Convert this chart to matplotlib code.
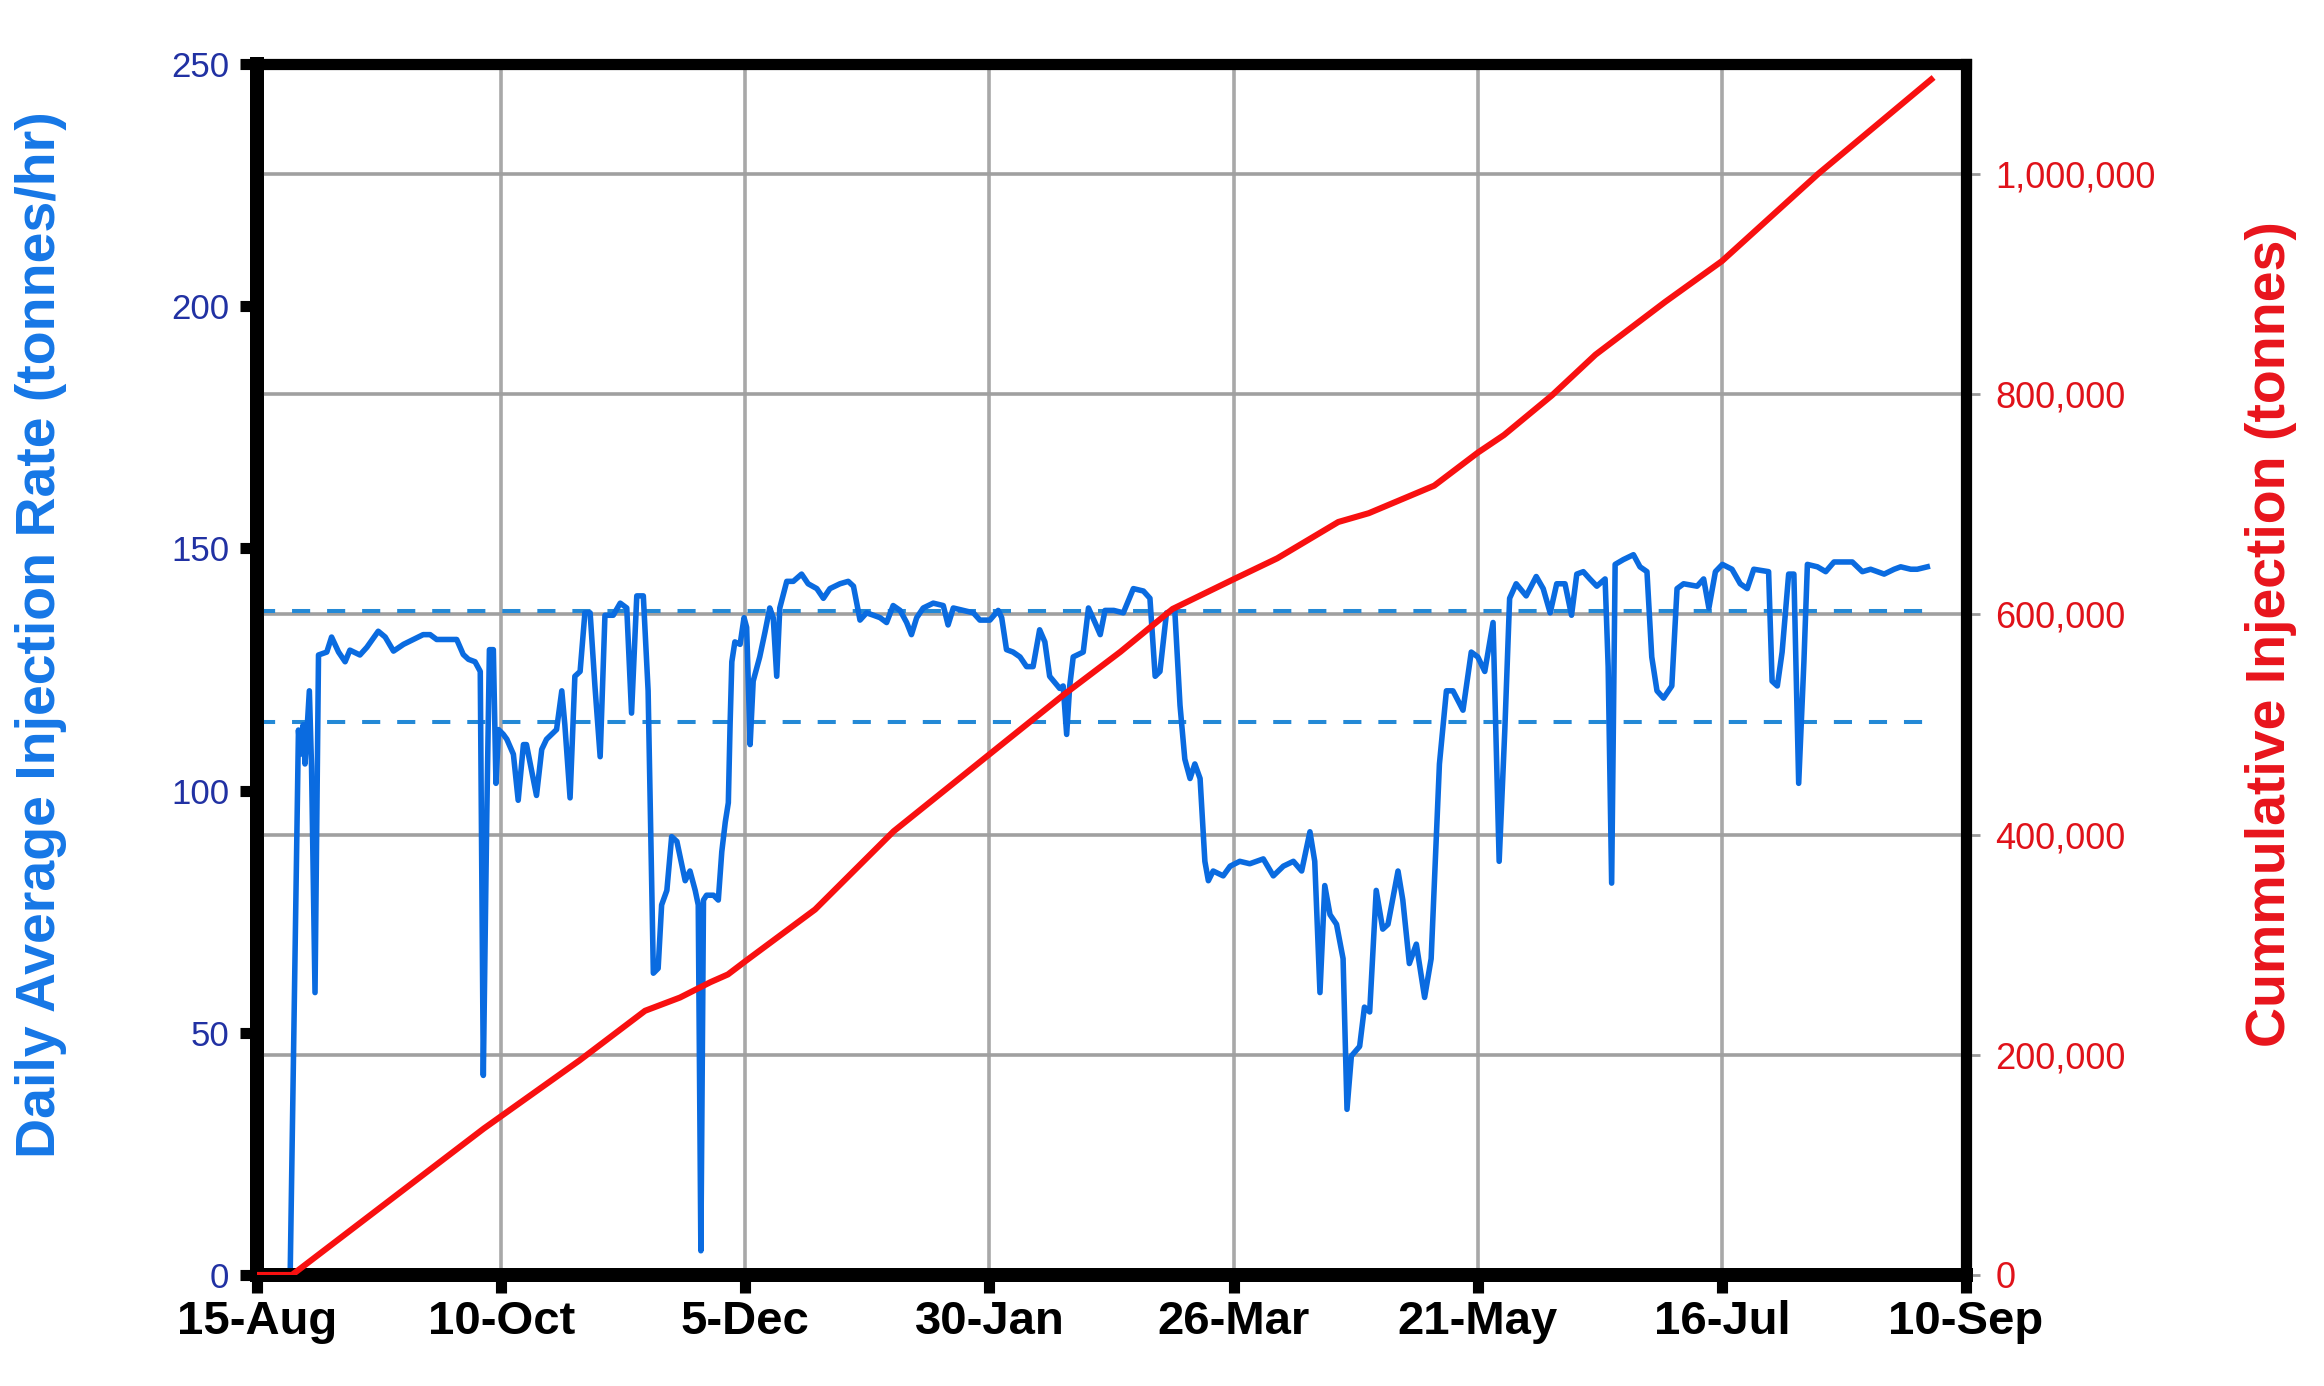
import numpy as np
import matplotlib
matplotlib.use("Agg")
import matplotlib.pyplot as plt
from matplotlib.ticker import FuncFormatter

plt.rcParams['font.family'] = ['Liberation Sans', 'DejaVu Sans']

# days counted from 15-Aug
RATE_DAYS = [
    0, 7.6, 9.5, 9.9, 10.6, 11.0, 12.0, 12.5, 13.3, 14.1, 16.0, 17.1, 18.7, 20.2,
    21.3, 23.6, 25.2, 27.8, 29.4, 31.3, 33.6, 38.1, 39.7, 41.2, 45.8, 47.3, 48.5,
    50.0, 51.2, 51.9, 52.7, 53.3, 54.2, 54.8, 55.4, 56.5, 57.3, 58.8, 59.9, 61.1,
    61.8, 64.1, 65.3, 66.4, 68.7, 69.9, 70.6, 71.8, 72.9, 74.1, 75.2, 76.4, 77.5,
    78.7, 79.8, 81.7, 83.3, 84.8, 85.9, 87.1, 88.6, 89.7, 90.9, 92.0, 92.8, 94.0,
    95.1, 96.3, 98.2, 99.3, 100.5, 101.2, 101.8, 102.4, 103.1, 104.7, 105.8, 106.6,
    107.4, 108.1, 108.5, 108.9, 109.6, 110.8, 111.7, 112.3, 113.1, 113.8, 115.3,
    116.5, 117.6, 118.4, 119.2, 119.9, 121.5, 123.0, 124.9, 126.4, 128.4, 129.9,
    131.4, 133.7, 135.6, 136.8, 138.3, 139.8, 141.4, 142.9, 144.4, 145.9, 147.5,
    149.0, 150.1, 151.3, 152.8, 155.1, 157.4, 158.5, 159.7, 162.0, 164.3, 165.8,
    168.1, 170.0, 170.8, 171.9, 173.4, 175.0, 176.5, 178.0, 179.5, 180.7, 181.8,
    184.1, 184.9, 185.7, 186.4, 187.2, 189.5, 190.7, 192.2, 193.4, 194.5, 196.5,
    198.7, 201.0, 203.3, 204.8, 206.0, 207.1, 208.6, 210.5, 211.7, 212.8, 214.0,
    215.1, 216.3, 217.4, 218.2, 219.3, 221.6, 223.2, 225.4, 227.7, 230.8, 233.1,
    235.4, 237.7, 239.6, 241.5, 242.6, 243.8, 244.9, 246.1, 247.6, 249.1, 250.0,
    251.0, 252.9, 254.0, 255.2, 256.7, 258.2, 259.4, 261.7, 262.8, 264.3, 265.9,
    267.8, 269.3, 271.2, 272.8, 274.3, 276.6, 278.5, 280.0, 281.6, 283.5, 284.9,
    286.2, 287.3, 288.8, 291.1, 293.4, 295.0, 296.6, 298.1, 300.0, 301.5, 302.7,
    304.2, 305.7, 307.3, 309.2, 309.9, 310.7, 311.5, 313.4, 315.7, 317.2, 318.8,
    319.9, 321.1, 322.6, 324.5, 325.7, 327.2, 330.3, 331.8, 333.0, 334.5, 336.1,
    338.3, 340.2, 341.8, 343.3, 346.7, 347.5, 348.7, 349.8, 351.3, 352.5, 353.6,
    354.8, 355.6, 357.9, 359.8, 361.7, 365.9, 368.2, 370.1, 373.2, 375.5, 377.0,
    379.3, 380.8, 383.1,
]
RATE_TPH = [
    0, 0, 112.5, 107.5, 113.6, 105.5, 120.6, 105.0, 58.3, 128.0, 128.6, 131.7, 128.6, 126.6,
    129.0, 128.0, 129.6, 132.9, 131.7, 128.8, 130.2, 132.2, 132.2, 131.2, 131.2, 128.1, 127.1,
    126.6, 124.6, 41.2, 95.0, 129.1, 129.1, 101.5, 112.6, 111.6, 110.6, 107.5, 98.0, 109.5,
    109.5, 99.0, 108.5, 110.6, 112.6, 120.6, 113.6, 98.5, 123.6, 124.6, 136.7, 136.7, 121.6,
    107.0, 136.2, 136.2, 138.7, 137.7, 116.0, 140.2, 140.2, 120.6, 62.3, 63.3, 76.4, 79.4,
    90.5, 89.5, 81.4, 83.4, 79.4, 76.4, 5.0, 77.4, 78.4, 78.4, 77.4, 87.4,
    93.5, 97.5, 113.6, 126.6, 130.7, 130.2, 135.7, 133.7, 109.5, 122.6, 127.6,
    132.7, 137.7, 135.7, 123.6, 137.7, 143.2, 143.2, 144.7, 142.7, 141.7, 139.7,
    141.7, 142.7, 143.2, 142.2, 135.2, 136.7, 136.2, 135.7, 134.7, 138.2, 137.2,
    134.7, 132.2, 135.7, 137.7, 138.7, 138.2, 134.2, 137.7, 137.2, 136.7, 135.2,
    135.2, 137.2, 135.7, 129.1, 128.6, 127.6, 125.6, 125.6, 133.2, 130.7, 123.6,
    121.1, 121.6, 111.6, 121.6, 127.6, 128.6, 137.7, 134.7, 132.2, 137.2, 137.2,
    136.7, 141.7, 141.2, 139.7, 123.6, 124.6, 136.7, 137.2, 117.6, 106.5, 102.5,
    105.5, 102.5, 85.4, 81.4, 83.4, 82.4, 84.4, 85.4, 84.9, 85.9, 82.4,
    84.4, 85.4, 83.4, 91.5, 85.4, 58.3, 80.4, 74.4, 72.4, 65.3, 34.2,
    45.2, 47.2, 55.3, 54.3, 79.4, 71.4, 72.4, 83.4, 77.4, 64.3, 68.3,
    57.3, 65.3, 105.5, 120.6, 120.6, 116.6, 128.6, 127.6, 124.6, 134.7, 85.4,
    112.6, 139.7, 142.7, 140.2, 144.2, 141.7, 136.7, 142.7, 142.7, 136.2, 144.7,
    145.2, 143.7, 142.2, 143.7, 125.6, 80.9, 146.7, 147.7, 148.7, 146.2, 145.2,
    127.6, 120.6, 119.1, 121.6, 141.7, 142.7, 142.2, 143.7, 137.7, 145.2, 146.7,
    145.7, 142.7, 141.7, 145.7, 145.2, 122.6, 121.6, 128.6, 144.7, 144.7, 101.5,
    126.6, 146.7, 146.2, 145.2, 147.2, 147.2, 145.2, 145.7, 144.7, 145.7, 146.2,
    145.7, 145.7, 146.2,
]

CUM_DAYS = [0, 8, 52, 74, 89, 97, 104, 108, 112, 128, 146, 168, 185, 198, 210,
            224, 234, 248, 255, 270, 280, 286, 297, 307, 323, 336, 358, 384]
CUM_TONNES = [0, 0, 133000, 195000, 240000, 252000, 266000, 273000, 285000,
              332000, 403000, 473000, 527000, 566000, 605000, 632000, 651000,
              684000, 692000, 717000, 747000, 763000, 799000, 836000, 884000,
              921000, 1000000, 1086000]

# reference rates, 1.0 and 1.2 Mt/yr
RATE_LINES = [114.2, 137.0]

TICK_DAYS = [0, 56, 112, 168, 224, 280, 336, 392]
TICK_LABELS = ['15-Aug', '10-Oct', '5-Dec', '30-Jan', '26-Mar', '21-May', '16-Jul', '10-Sep']
LEFT_TICKS = [0, 50, 100, 150, 200, 250]
RIGHT_TICKS = [0, 200000, 400000, 600000, 800000, 1000000]

BLUE = '#0a6be0'
RED = '#f81010'

fig = plt.figure(figsize=(23.24, 13.86), dpi=100)
ax = fig.add_axes([0.1106, 0.0801, 0.7354, 0.8737])
ax2 = ax.twinx()

ax.set_xlim(TICK_DAYS[0], TICK_DAYS[-1])
ax.set_ylim(0, 250)
ax2.set_ylim(0, 1100000)

# vertical grid on the bottom axes, horizontal grid follows the right scale
ax.set_xticks(TICK_DAYS, TICK_LABELS, fontweight='bold')
ax.grid(axis='x', color='#a8a8a8', linewidth=2.6)
ax.set_axisbelow(True)
ax2.set_yticks(RIGHT_TICKS)
ax2.yaxis.set_major_formatter(FuncFormatter(lambda v, p: f'{v:,.0f}'))
ax2.grid(axis='y', color='#a0a0a0', linewidth=2.6)
ax2.set_axisbelow(True)

# rate series lives in left-axis units but is drawn in the top axes
ax2.hlines(RATE_LINES, RATE_DAYS[0], RATE_DAYS[-1], transform=ax.transData,
           colors='#2489d6', linewidth=2.9, linestyles=(0, (4.5, 4.2)), zorder=1.5)
ax2.plot(RATE_DAYS, RATE_TPH, transform=ax.transData, color=BLUE,
         linewidth=4.0, zorder=2, solid_joinstyle='round')
ax2.plot(CUM_DAYS, CUM_TONNES, color=RED, linewidth=4.4, zorder=3,
         solid_joinstyle='round')
ax2.set_ylim(0, 1100000)

ax.set_yticks(LEFT_TICKS)
ax.tick_params(axis='y', direction='out', length=12, width=8, color='black',
               labelcolor='#2131a3', labelsize=25, pad=8)
ax.tick_params(axis='x', direction='out', length=13, width=8, color='black',
               labelcolor='black', labelsize=34, pad=5)
ax2.tick_params(axis='y', direction='out', length=10, width=2, color='#999999',
                labelcolor='#e0121a', labelsize=26, pad=11)

for a in (ax, ax2):
    for side, w in (('left', 10), ('bottom', 10), ('top', 8), ('right', 8)):
        a.spines[side].set_linewidth(w)
        a.spines[side].set_color('black')

ax.set_ylabel('Daily Average Injection Rate (tonnes/hr)', color='#1677e6',
              fontsize=40, fontweight='bold')
ax.yaxis.set_label_coords(-0.111, 0.529)
ax2.set_ylabel('Cummulative Injection (tonnes)', color='#e8141c',
               fontsize=40, fontweight='bold', rotation=90)
ax2.yaxis.set_label_coords(1.163, 0.529)

fig.savefig('out.png', dpi=100)
